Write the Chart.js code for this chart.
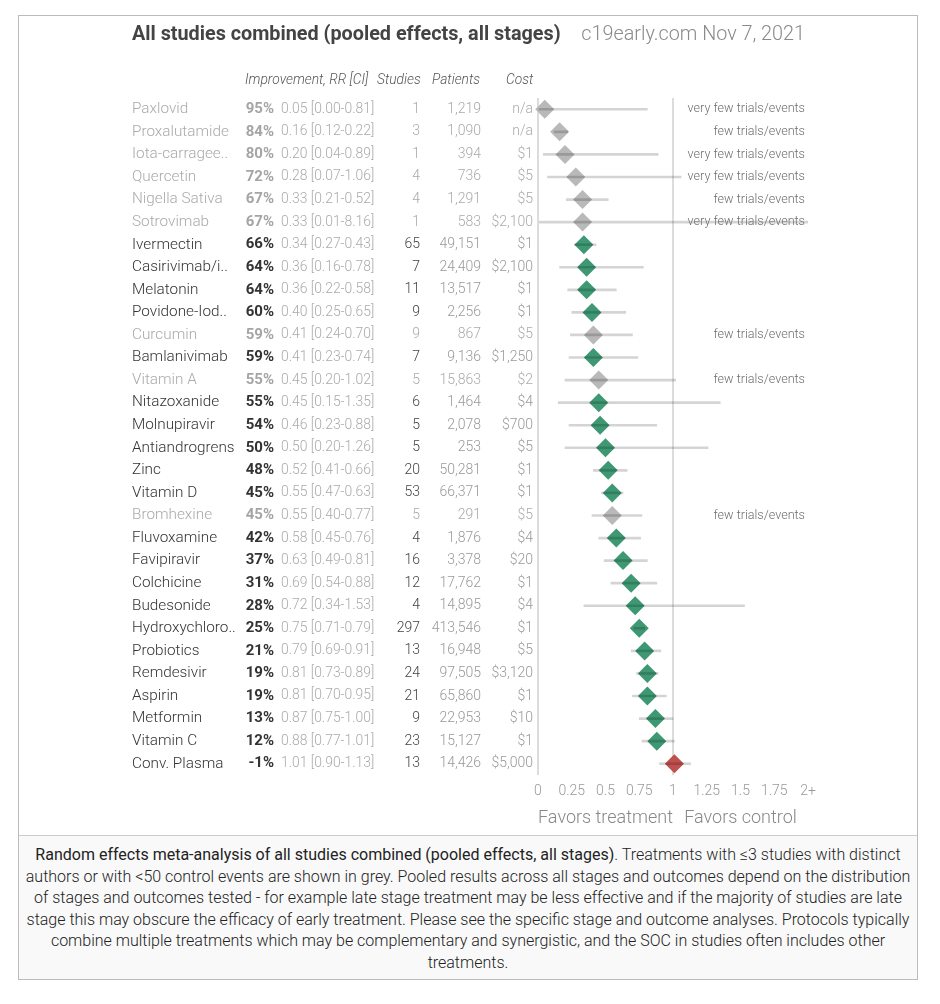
<!DOCTYPE html>
<html>
<head>
<meta charset="utf-8">
<script src="https://cdn.jsdelivr.net/npm/chart.js@4"></script>
<style>
  body { margin: 0; background: #fff; font-family: Roboto, sans-serif; }
  #frame { position: absolute; left: 18px; top: 15px; width: 900px; height: 965px; border: 1px solid #bbb; box-sizing: border-box; }
  #wrap { position: relative; width: 898px; height: 819px; }
  #forest { display: block; }
  #note { position: absolute; left: 0; top: 819px; width: 898px; height: 144px; border-top: 1px solid #ccc; background: #f9f9f9;
          box-sizing: border-box; padding-top: 8px; text-align: center; font-size: 16px; font-weight: 300; line-height: 21.5px;
          color: #222; white-space: nowrap; }
  #note b { font-weight: 400; }
</style>
</head>
<body>
<div id="frame">
  <div id="wrap"><canvas id="forest" width="898" height="819"></canvas></div>
  <div id="note">
    <b>Random effects meta-analysis of all studies combined (pooled effects, all stages)</b>. Treatments with ≤3 studies with distinct<br>
    authors or with &lt;50 control events are shown in grey. Pooled results across all stages and outcomes depend on the distribution<br>
    of stages and outcomes tested - for example late stage treatment may be less effective and if the majority of studies are late<br>
    stage this may obscure the efficacy of early treatment. Please see the specific stage and outcome analyses. Protocols typically<br>
    combine multiple treatments which may be complementary and synergistic, and the SOC in studies often includes other<br>
    treatments.
  </div>
</div>
<script>
(() => {
  'use strict'

  const names = ['Paxlovid', 'Proxalutamide', 'Iota-carragee..', 'Quercetin', 'Nigella Sativa', 'Sotrovimab',
    'Ivermectin', 'Casirivimab/i..', 'Melatonin', 'Povidone-Iod..', 'Curcumin', 'Bamlanivimab', 'Vitamin A',
    'Nitazoxanide', 'Molnupiravir', 'Antiandrogrens', 'Zinc', 'Vitamin D', 'Bromhexine', 'Fluvoxamine',
    'Favipiravir', 'Colchicine', 'Budesonide', 'Hydroxychloro..', 'Probiotics', 'Remdesivir', 'Aspirin',
    'Metformin', 'Vitamin C', 'Conv. Plasma']
  const improvement = ['95%', '84%', '80%', '72%', '67%', '67%', '66%', '64%', '64%', '60%', '59%', '59%', '55%',
    '55%', '54%', '50%', '48%', '45%', '45%', '42%', '37%', '31%', '28%', '25%', '21%', '19%', '19%', '13%', '12%', '-1%']
  const rr = [0.05, 0.16, 0.20, 0.28, 0.33, 0.33, 0.34, 0.36, 0.36, 0.40, 0.41, 0.41, 0.45, 0.45, 0.46, 0.50, 0.52,
    0.55, 0.55, 0.58, 0.63, 0.69, 0.72, 0.75, 0.79, 0.81, 0.81, 0.87, 0.88, 1.01]
  const ciLow = [0.00, 0.12, 0.04, 0.07, 0.21, 0.01, 0.27, 0.16, 0.22, 0.25, 0.24, 0.23, 0.20, 0.15, 0.23, 0.20, 0.41,
    0.47, 0.40, 0.45, 0.49, 0.54, 0.34, 0.71, 0.69, 0.73, 0.70, 0.75, 0.77, 0.90]
  const ciHigh = [0.81, 0.22, 0.89, 1.06, 0.52, 8.16, 0.43, 0.78, 0.58, 0.65, 0.70, 0.74, 1.02, 1.35, 0.88, 1.26, 0.66,
    0.63, 0.77, 0.76, 0.81, 0.88, 1.53, 0.79, 0.91, 0.89, 0.95, 1.00, 1.01, 1.13]
  const studies = [1, 3, 1, 4, 4, 1, 65, 7, 11, 9, 9, 7, 5, 6, 5, 5, 20, 53, 5, 4, 16, 12, 4, 297, 13, 24, 21, 9, 23, 13]
  const patients = ['1,219', '1,090', '394', '736', '1,291', '583', '49,151', '24,409', '13,517', '2,256', '867',
    '9,136', '15,863', '1,464', '2,078', '253', '50,281', '66,371', '291', '1,876', '3,378', '17,762', '14,895',
    '413,546', '16,948', '97,505', '65,860', '22,953', '15,127', '14,426']
  const cost = ['n/a', 'n/a', '$1', '$5', '$5', '$2,100', '$1', '$2,100', '$1', '$1', '$5', '$1,250', '$2', '$4',
    '$700', '$5', '$1', '$1', '$5', '$4', '$20', '$1', '$4', '$1', '$5', '$3,120', '$1', '$10', '$1', '$5,000']
  const notes = ['very few trials/events', 'few trials/events', 'very few trials/events', 'very few trials/events',
    'few trials/events', 'very few trials/events', '', '', '', '', 'few trials/events', '', 'few trials/events',
    '', '', '', '', '', 'few trials/events', '', '', '', '', '', '', '', '', '', '', '']
  const xTicks = ['0', '0.25', '0.5', '0.75', '1', '1.25', '1.5', '1.75', '2+']

  const greyed = notes.map(n => n !== '')
  const markColors = rr.map((v, i) => greyed[i] ? '#b9b9b9' : (v > 1 ? '#c0504d' : '#3f9874'))

  const F = 'Roboto, sans-serif'

  const tablePlugin = {
    id: 'table',
    afterDraw (chart) {
      const { ctx, scales: { x, y } } = chart
      ctx.save()
      ctx.textBaseline = 'middle'

      // title
      ctx.textAlign = 'left'
      ctx.fillStyle = '#444'
      ctx.font = `700 19.8px ${F}`
      ctx.fillText('All studies combined (pooled effects, all stages)', 113, 19)
      ctx.textAlign = 'right'
      ctx.fillStyle = '#8a8a8a'
      ctx.font = `300 19.8px ${F}`
      ctx.fillText('c19early.com Nov 7, 2021', 786, 19)

      // column headers
      ctx.fillStyle = '#555'
      ctx.font = `italic 300 13.8px ${F}`
      ctx.textAlign = 'left'
      ctx.fillText('Improvement, RR [CI]', 226, 65)
      ctx.fillText('Studies', 358, 65)
      ctx.fillText('Patients', 413, 65)
      ctx.fillText('Cost', 487, 65)

      names.forEach((name, i) => {
        const py = y.getPixelForValue(i)
        const g = greyed[i]
        ctx.textAlign = 'left'
        ctx.font = `300 15.3px ${F}`
        ctx.fillStyle = g ? '#aaa' : '#333'
        ctx.fillText(name, 113, py)

        ctx.textAlign = 'right'
        ctx.font = `700 15px ${F}`
        ctx.fillStyle = g ? '#a5a5a5' : '#333'
        ctx.fillText(improvement[i], 255, py)

        ctx.textAlign = 'left'
        ctx.font = `300 13.9px ${F}`
        ctx.fillStyle = '#aaa'
        ctx.fillText(`${rr[i].toFixed(2)} [${ciLow[i].toFixed(2)}-${ciHigh[i].toFixed(2)}]`, 262, py)

        ctx.textAlign = 'right'
        ctx.font = `300 14px ${F}`
        ctx.fillStyle = g ? '#aaa' : '#444'
        ctx.fillText(String(studies[i]), 401, py)
        ctx.fillStyle = g ? '#aaa' : '#999'
        ctx.fillText(patients[i], 462, py)
        ctx.fillText(cost[i], 514, py)

        if (notes[i]) {
          ctx.font = `300 12.6px ${F}`
          ctx.fillStyle = '#6f6f6f'
          ctx.fillText(notes[i], 786, py)
        }
      })

      // favors labels
      ctx.textAlign = 'center'
      ctx.font = `300 18px ${F}`
      ctx.fillStyle = '#888'
      ctx.fillText('Favors treatment', (x.getPixelForValue(0) + x.getPixelForValue(1)) / 2, 802)
      ctx.fillText('Favors control', (x.getPixelForValue(1) + x.getPixelForValue(2)) / 2, 802)
      ctx.restore()
    }
  }

  const ctx = document.getElementById('forest')
  // eslint-disable-next-line no-unused-vars
  const forest = new Chart(ctx, {
    type: 'bar',
    data: {
      labels: names,
      datasets: [
        {
          type: 'bar',
          data: names.map((n, i) => [ciLow[i], ciHigh[i]]),
          backgroundColor: 'rgba(0, 0, 0, 0.17)',
          barThickness: 2,
          clip: 0,
          order: 0
        },
        {
          type: 'scatter',
          data: names.map((n, i) => ({ x: rr[i], y: n })),
          pointStyle: 'rectRot',
          pointRadius: 9.5,
          backgroundColor: markColors,
          borderWidth: 0,
          clip: false,
          order: 1
        }
      ]
    },
    options: {
      indexAxis: 'y',
      responsive: false,
      animation: false,
      layout: { padding: { left: 519, right: 109, top: 82, bottom: 30 } },
      plugins: {
        legend: { display: false },
        tooltip: { enabled: false }
      },
      scales: {
        x: {
          type: 'linear',
          min: 0,
          max: 2,
          ticks: {
            stepSize: 0.25,
            callback: (v, i) => xTicks[i],
            color: '#999',
            padding: 8,
            font: { family: F, size: 14, weight: 300 }
          },
          grid: {
            color: c => (c.tick && (c.tick.value === 0 || c.tick.value === 1)) ? '#dcdcdc' : 'transparent',
            lineWidth: 2,
            drawTicks: false
          },
          border: { display: false },
          afterFit: s => { s.height = 30 }
        },
        y: {
          type: 'category',
          display: false,
          offset: true
        }
      }
    },
    plugins: [tablePlugin]
  })
})()
</script>
</body>
</html>
